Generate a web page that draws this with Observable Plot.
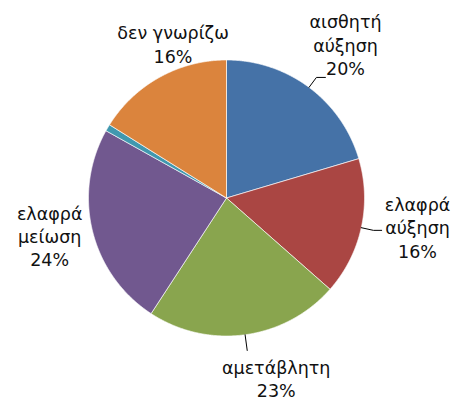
<!DOCTYPE html>
<html><head><meta charset="utf-8">
<script src="https://cdn.jsdelivr.net/npm/d3@7"></script>
<script src="https://cdn.jsdelivr.net/npm/@observablehq/plot@0.6"></script>
<style>html,body{margin:0;padding:0;background:#fff}</style>
</head><body><div id="chart"></div>
<script>
// data
const categories = ["αισθητή\nαύξηση", "ελαφρά\nαύξηση", "αμετάβλητη", "ελαφρά\nμείωση", "αισθητή\nμείωση", "δεν γνωρίζω"];
const values = [20.4, 16.1, 22.7, 23.9, 0.8, 16.1];
const showLabel = [true, true, true, true, false, true];
const colors = ["#4572A7", "#AA4643", "#89A54E", "#71588F", "#4198AF", "#DB843D"];

// layout
const W = 463, H = 403, CX = 226, CY = 197.5, R = 138;
const labelLayout = [{da: 1, k: 1.41}, {da: -3.8, k: 1.40}, {da: -7.7, k: 1.353}, {da: 1.9, k: 1.31}, null, {da: 9.9, k: 1.185}];
const leaderLayout = [{k: 1.09, tail: 0.065}, {k: 1.09, tail: 0.06}, {k: 1.115, tail: 0}, null, null, null];

const arcs = d3.pie().sort(null).value(d => d)(values);
const deg = Math.PI / 180;

const marks = [];
arcs.forEach((p, i) => {
  const pts = [{x: 0, y: 0}];
  const n = Math.max(2, Math.ceil((p.endAngle - p.startAngle) / 0.005));
  for (let j = 0; j <= n; j++) {
    const a = p.startAngle + (p.endAngle - p.startAngle) * j / n;
    pts.push({x: Math.sin(a), y: Math.cos(a)});
  }
  pts.push({x: 0, y: 0});
  marks.push(Plot.line(pts, {x: "x", y: "y", fill: colors[i], stroke: "#ffffff", strokeWidth: 0.8, strokeOpacity: 0.8, strokeLinejoin: "round"}));
});

const labels = [];
const leaders = [];
arcs.forEach((p, i) => {
  const mid = (p.startAngle + p.endAngle) / 2;
  if (showLabel[i] && labelLayout[i]) {
    const L = labelLayout[i];
    const a = mid + L.da * deg;
    labels.push({x: L.k * Math.sin(a), y: L.k * Math.cos(a), text: categories[i] + "\n" + Math.round(values[i]) + "%"});
  }
  if (leaderLayout[i]) {
    const Ld = leaderLayout[i];
    const sx = Math.sin(mid), sy = Math.cos(mid);
    leaders.push({x: sx, y: sy, g: i});
    leaders.push({x: Ld.k * sx, y: Ld.k * sy, g: i});
    if (Ld.tail) leaders.push({x: Ld.k * sx + Ld.tail, y: Ld.k * sy, g: i});
  }
});

marks.push(Plot.line(leaders, {x: "x", y: "y", z: "g", stroke: "#000", strokeWidth: 1}));
marks.push(Plot.text(labels, {x: "x", y: "y", text: "text", fontSize: 17.5, lineHeight: 1.33, fill: "#111", fontFamily: "DejaVu Sans", textAnchor: "middle", lineAnchor: "middle"}));

const chart = Plot.plot({
  width: W, height: H, margin: 0,
  x: {domain: [-CX / R, (W - CX) / R], axis: null},
  y: {domain: [-(H - CY) / R, CY / R], axis: null},
  style: {background: "#fff", overflow: "visible"},
  marks
});
document.getElementById("chart").appendChild(chart);
</script>
</body></html>
